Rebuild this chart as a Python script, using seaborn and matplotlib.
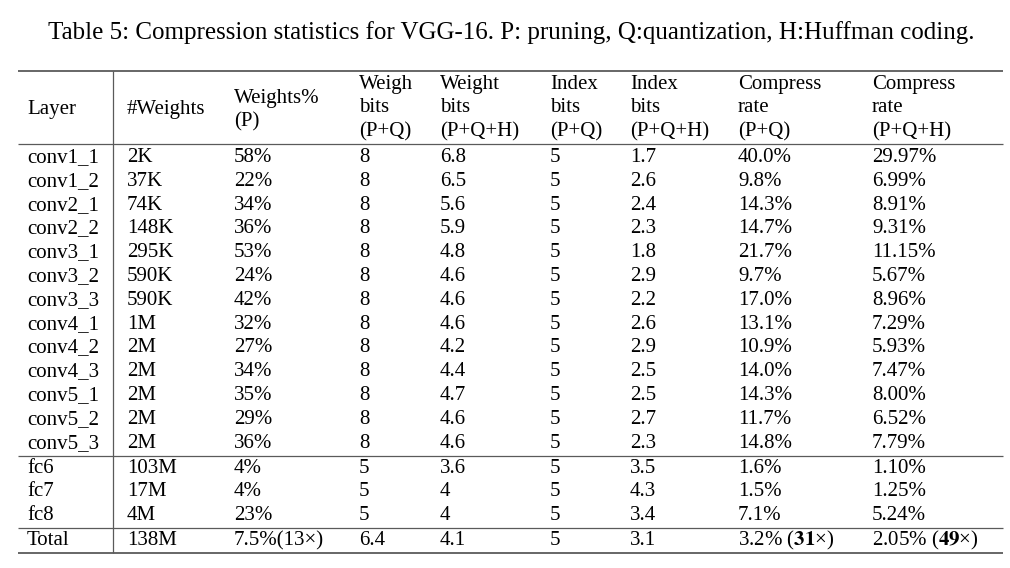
import matplotlib
matplotlib.use("Agg")
import matplotlib.pyplot as plt
import seaborn as sns
import numpy as np

sns.set_theme(style="white")
plt.rcParams['font.family'] = ['Liberation Serif', 'DejaVu Serif']
plt.rcParams['mathtext.fontset'] = 'stix'

title = "Table 5: Compression statistics for VGG-16. P: pruning, Q:quantization, H:Huffman coding."

header = [
    ["Layer"],
    ["#Weights"],
    ["Weights%", "(P)"],
    ["Weigh", "bits", "(P+Q)"],
    ["Weight", "bits", "(P+Q+H)"],
    ["Index", "bits", "(P+Q)"],
    ["Index", "bits", "(P+Q+H)"],
    ["Compress", "rate", "(P+Q)"],
    ["Compress", "rate", "(P+Q+H)"],
]

layers = ["conv1_1", "conv1_2", "conv2_1", "conv2_2", "conv3_1", "conv3_2", "conv3_3",
          "conv4_1", "conv4_2", "conv4_3", "conv5_1", "conv5_2", "conv5_3",
          "fc6", "fc7", "fc8", "Total"]
n_weights = ["2K", "37K", "74K", "148K", "295K", "590K", "590K", "1M", "2M", "2M", "2M", "2M", "2M",
             "103M", "17M", "4M", "138M"]
weights_pct = ["58%", "22%", "34%", "36%", "53%", "24%", "42%", "32%", "27%", "34%", "35%", "29%", "36%",
               "4%", "4%", "23%", "7.5%(13×)"]
weight_bits_pq = ["8"] * 13 + ["5", "5", "5", "6.4"]
weight_bits_pqh = ["6.8", "6.5", "5.6", "5.9", "4.8", "4.6", "4.6", "4.6", "4.2", "4.4", "4.7", "4.6", "4.6",
                   "3.6", "4", "4", "4.1"]
index_bits_pq = ["5"] * 17
index_bits_pqh = ["1.7", "2.6", "2.4", "2.3", "1.8", "2.9", "2.2", "2.6", "2.9", "2.5", "2.5", "2.7", "2.3",
                  "3.5", "4.3", "3.4", "3.1"]
rate_pq = ["40.0%", "9.8%", "14.3%", "14.7%", "21.7%", "9.7%", "17.0%", "13.1%", "10.9%", "14.0%", "14.3%",
           "11.7%", "14.8%", "1.6%", "1.5%", "7.1%", r"3.2% ($\mathbf{31}$×)"]
rate_pqh = ["29.97%", "6.99%", "8.91%", "9.31%", "11.15%", "5.67%", "8.96%", "7.29%", "5.93%", "7.47%",
            "8.00%", "6.52%", "7.79%", "1.10%", "1.25%", "5.24%", r"2.05% ($\mathbf{49}$×)"]

columns = [layers, n_weights, weights_pct, weight_bits_pq, weight_bits_pqh,
           index_bits_pq, index_bits_pqh, rate_pq, rate_pqh]

# layout (pixel coordinates, text baselines)
col_x = [27, 127, 234, 359, 440, 550, 630, 738, 872]
row_base = [162 + 23.8 * i for i in range(13)] + [473, 496.5, 520, 545]

fig = plt.figure(figsize=(10.10, 5.68), dpi=100)
ax = fig.add_axes([0, 0, 1, 1])
ax.set_xlim(0, 1010)
ax.set_ylim(568, 0)
ax.axis("off")

fs = 15
ax.text(511, 39, title, ha="center", va="baseline", fontsize=18, color="black")

# header
for cx, lines in zip(col_x, header):
    if len(lines) == 1:
        ys = [114]
    elif len(lines) == 2:
        ys = [103, 126]
    else:
        ys = [89, 112.5, 136]
    for y, t in zip(ys, lines):
        ax.text(cx, y, t, ha="left", va="baseline", fontsize=fs, color="black")

# body
for cx, col in zip(col_x, columns):
    for y, t in zip(row_base, col):
        ax.text(cx, y, t, ha="left", va="baseline", fontsize=fs, color="black")

lc = "#5a5a5a"
ax.hlines([71, 553], 18, 1003, color=lc, lw=1.3)
ax.hlines([144, 456, 528], 18, 1003, color=lc, lw=0.9)
ax.vlines([113], 71, 553, color=lc, lw=0.9)

fig.savefig("out.png", dpi=100, facecolor="white")
